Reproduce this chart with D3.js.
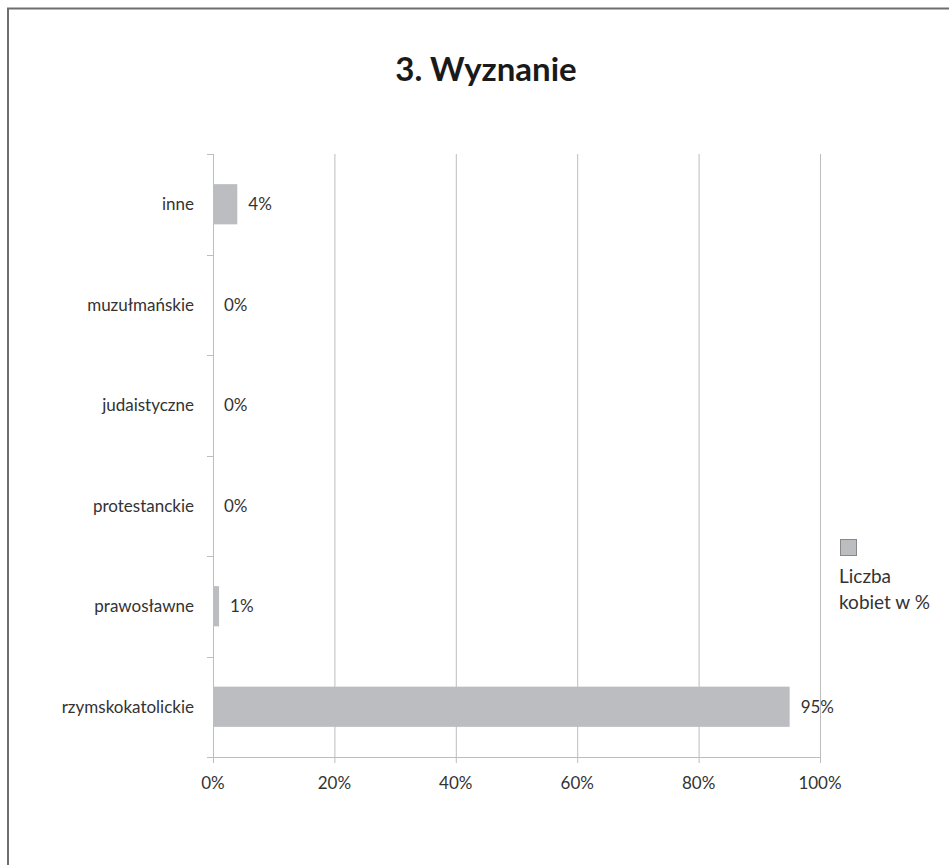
<!DOCTYPE html>
<html><head><meta charset="utf-8">
<script src="https://cdn.jsdelivr.net/npm/d3@7"></script>
<style>body{margin:0;background:#fff}</style>
</head><body>
<svg id="c" width="949" height="865"></svg>
<script>
const categories = ["inne","muzułmańskie","judaistyczne","protestanckie","prawosławne","rzymskokatolickie"];
const values = [4, 0, 0, 0, 1, 95];
const xTicks = [0, 20, 40, 60, 80, 100];
const title = "3. Wyznanie";
const legendLines = ["Liczba", "kobiet w %"];

(function(){
const svg = d3.select("#c");
const font = "Lato, 'Open Sans', sans-serif";
const barColor = "#bcbdc1";
const gridColor = "#bdbdbd";
const textColor = "#333";
const fs = 17;

// frame
svg.append("path").attr("d","M8,870 V8.5 H960").attr("fill","none").attr("stroke","#6e6e6e").attr("stroke-width",2);

const pL = 213, pR = 820, pT = 154, pB = 757;
const x = d3.scaleLinear().domain([0,100]).range([pL,pR]);
const y = d3.scaleBand().domain(categories).range([pT,pB]).paddingInner(0.6).paddingOuter(0.3);
const band = (pB-pT)/categories.length;

// gridlines
svg.append("g").selectAll("line").data(xTicks.slice(1)).join("line")
  .attr("x1",d=>x(d)+0.5).attr("x2",d=>x(d)+0.5).attr("y1",pT).attr("y2",pB+6)
  .attr("stroke",gridColor).attr("stroke-width",1);

// y axis line + ticks at band boundaries
svg.append("line").attr("x1",pL+0.5).attr("x2",pL+0.5).attr("y1",pT).attr("y2",pB+6).attr("stroke",gridColor);
svg.append("g").selectAll("line").data(d3.range(categories.length+1)).join("line")
  .attr("x1",pL-6).attr("x2",pL).attr("y1",i=>Math.round(pT+i*band)+0.5).attr("y2",i=>Math.round(pT+i*band)+0.5)
  .attr("stroke",gridColor);
// x axis line
svg.append("line").attr("x1",pL).attr("x2",pR+1).attr("y1",pB+0.5).attr("y2",pB+0.5).attr("stroke",gridColor);

// bars
svg.append("g").selectAll("rect").data(categories).join("rect")
  .attr("x",pL+1).attr("y",(d)=>y(d)).attr("height",y.bandwidth())
  .attr("width",(d,i)=>Math.max(0,x(values[i])-pL-1)).attr("fill",barColor);

// category labels
svg.append("g").selectAll("text").data(categories).join("text")
  .attr("x",194).attr("y",d=>y(d)+y.bandwidth()/2).attr("dy","0.35em")
  .attr("text-anchor","end").attr("font-family",font).attr("font-size",fs).attr("fill",textColor).text(d=>d);

// value labels
svg.append("g").selectAll("text").data(categories).join("text")
  .attr("x",(d,i)=>x(values[i])+11).attr("y",d=>y(d)+y.bandwidth()/2).attr("dy","0.35em")
  .attr("font-family",font).attr("font-size",fs).attr("fill",textColor).text((d,i)=>values[i]+"%");

// x tick labels
svg.append("g").selectAll("text").data(xTicks).join("text")
  .attr("x",d=>x(d)).attr("y",789).attr("text-anchor","middle")
  .attr("font-family",font).attr("font-size",fs).attr("fill",textColor).text(d=>d+"%");

// title
svg.append("text").attr("x",486).attr("y",81).attr("text-anchor","middle")
  .attr("font-family",font).attr("font-weight","bold").attr("font-size",33).attr("fill","#1a1a1a").text(title);

// legend
svg.append("rect").attr("x",840.5).attr("y",539.5).attr("width",16).attr("height",16)
  .attr("fill",barColor).attr("stroke","#888");
svg.append("g").selectAll("text").data(legendLines).join("text")
  .attr("x",839).attr("y",(d,i)=>583+i*26).attr("font-family",font).attr("font-size",19).attr("fill",textColor).text(d=>d);
})();
</script>
</body></html>
